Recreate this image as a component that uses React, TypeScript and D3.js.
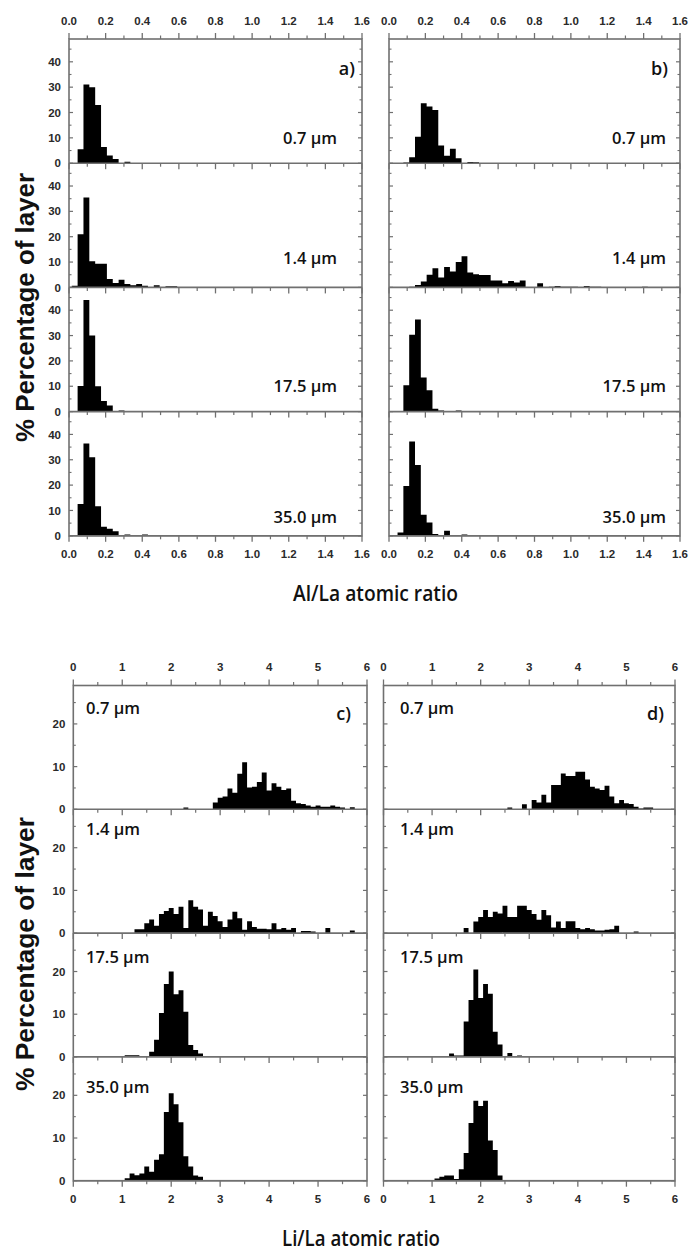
import React from 'react';
import * as d3 from 'd3';

// ---------- DATA ----------
// Al/La histogram bin centres (bin width 0.032)
const alBins = [
  0.031, 0.063, 0.095, 0.127, 0.159, 0.191, 0.223, 0.255, 0.287, 0.319,
  0.351, 0.383, 0.415, 0.447, 0.479, 0.511, 0.543, 0.575, 0.607, 0.639,
  0.671, 0.703, 0.735, 0.767, 0.799, 0.831, 0.863, 0.895, 0.927, 0.959,
  0.991, 1.023, 1.055, 1.087, 1.119, 1.151, 1.183, 1.215, 1.247, 1.279,
  1.311, 1.343, 1.375, 1.407, 1.439,
];
const alBinWidth = 0.032;

// panel a)
const a07 = [0, 5.5, 31, 30, 23, 6.4, 3, 1.7, 0, 0.6];
const a14 = [0.7, 21, 35.5, 10.3, 9.3, 9.3, 3.3, 1.7, 3, 1.3, 0.8, 1.3, 0.7, 0, 0.8, 0, 0.5, 0.5];
const a175 = [0, 10.1, 44, 30, 10, 4.2, 2.4, 0, 0.4];
const a35 = [0, 12.5, 36.4, 31, 11.7, 3.6, 2.8, 1.8, 0, 0.5, 0, 0, 0.5];

// panel b)
const b07 = [0, 0, 0.3, 2.3, 10.4, 23.7, 22.4, 21, 7, 2.9, 5.7, 2, 0, 0.5, 0.4];
const b14 = [
  0, 0, 0, 0.3, 0.9, 2.3, 5, 7.6, 3.9, 8, 6.3, 10, 12.3, 5.9, 5.2, 4.9, 4.9, 2.7, 2.7, 1.6,
  2.5, 1.9, 2.7, 0, 0, 1.6, 0, 0.3, 0.6, 0.3, 0.3, 0.3, 0, 0.6, 0.3, 0.3, 0, 0, 0, 0,
  0, 0, 0, 0.3,
];
const b175 = [0, 0, 10.4, 30.3, 36.3, 13.5, 8.4, 1.1, 0.4, 0, 0, 0.4];
const b35 = [0, 1.3, 19.6, 37.2, 27.9, 8.3, 5.2, 0.7, 0, 2, 0, 0, 0.5];

// Li/La histogram bin centres (bin width 0.1)
const liBins = [
  1.0, 1.1, 1.2, 1.3, 1.4, 1.5, 1.6, 1.7, 1.8, 1.9,
  2.0, 2.1, 2.2, 2.3, 2.4, 2.5, 2.6, 2.7, 2.8, 2.9,
  3.0, 3.1, 3.2, 3.3, 3.4, 3.5, 3.6, 3.7, 3.8, 3.9,
  4.0, 4.1, 4.2, 4.3, 4.4, 4.5, 4.6, 4.7, 4.8, 4.9,
  5.0, 5.1, 5.2, 5.3, 5.4, 5.5, 5.6, 5.7, 5.8, 5.9,
];
const liBinWidth = 0.1;

// panel c)
const c07 = [
  0, 0, 0, 0, 0, 0, 0, 0, 0, 0,
  0, 0, 0, 0.4, 0, 0, 0, 0, 0, 1.6,
  2.7, 3.0, 4.9, 3.9, 8.3, 11, 5.1, 5.3, 6.4, 8.6,
  4.4, 6.1, 5.3, 4.5, 4.9, 2.0, 1.4, 1.25, 0.9, 0.6,
  0.9, 0.6, 0.6, 0.9, 0.6, 0.4, 0, 0.5,
];
const c14 = [
  0, 0, 0, 0.9, 0.9, 2.3, 3.2, 1.7, 4.5, 5.2,
  5.9, 4.5, 6.2, 1.2, 7.7, 6.2, 5.5, 1.7, 5, 4,
  2.8, 1.4, 3.2, 5, 3.5, 0.8, 2.8, 1.4, 1, 1,
  0.9, 2.3, 0.9, 1.2, 0.8, 1.2, 0, 0.5, 0.5, 0.4,
  0, 0, 1.2, 0, 0, 0, 0, 0.6,
];
const c175 = [0, 0.4, 0.4, 0.4, 0, 0, 1.2, 4.0, 10.3, 17.1, 20, 14.7, 15.6, 10.6, 2.8, 1.6, 0.8];
const c35 = [0, 0.55, 1.7, 1.3, 1.7, 3.3, 2.1, 4.9, 6.2, 16.1, 20.5, 17.9, 13.7, 5.7, 3.3, 1.2, 0.9];

// panel d)
const d07 = [
  0, 0, 0, 0, 0, 0, 0, 0, 0, 0,
  0, 0, 0, 0, 0, 0, 0.4, 0, 0, 1.2,
  0, 2.2, 1.6, 3.4, 1.6, 5.7, 5.7, 8.4, 7.8, 7.8,
  8.8, 8.8, 7, 5.3, 4.9, 4.5, 5.5, 3, 1.4, 2.2,
  1.4, 1.25, 0.6, 0.2, 0.4, 0.4,
];
const d14 = [
  0, 0, 0, 0, 0, 0, 0, 1.2, 0, 2.7,
  3.8, 5.4, 3.8, 5, 4.6, 6.4, 3.8, 3.8, 6.4, 6.4,
  5.4, 4.5, 3.1, 5.4, 4.2, 1.3, 2.7, 1.2, 2.8, 2.8,
  1.2, 0.9, 1.2, 0.9, 0.6, 0.6, 0.8, 0.9, 1.7, 0,
  0, 0, 0.4,
];
const d175 = [0, 0, 0, 0, 0.8, 0.3, 0.3, 8.3, 13.3, 20.5, 13.8, 17.1, 14.8, 5.9, 2.9, 0, 0.9, 0, 0.3];
const d35 = [0, 0.5, 0.9, 1.2, 1.2, 0.4, 2.7, 6.5, 13.5, 18.7, 17.5, 18.7, 9.4, 7.2, 1.2];

const depthLabels = ['0.7 µm', '1.4 µm', '17.5 µm', '35.0 µm'];

const alXMajor = [0, 0.2, 0.4, 0.6, 0.8, 1.0, 1.2, 1.4, 1.6];
const alXMinor = [0.1, 0.3, 0.5, 0.7, 0.9, 1.1, 1.3, 1.5];
const alYMajor = [0, 10, 20, 30, 40];
const alYMinor = [5, 15, 25, 35, 45];

const liXMajor = [0, 1, 2, 3, 4, 5, 6];
const liXMinor = [0.5, 1.5, 2.5, 3.5, 4.5, 5.5];
const liYMajor = [0, 10, 20];
const liYMinor = [5, 15, 25];

// ---------- STYLE ----------
const FRAME = '#707070';
const TICKTXT = '#2a2a2a';
const LBLFONT = "'Open Sans', 'Noto Sans', sans-serif";
const TICKFONT = "'Liberation Sans', Arial, sans-serif";

type PanelProps = {
  x0: number; x1: number; top: number; rowH: number;
  xDomain: [number, number]; yMax: number;
  bins: number[]; binW: number; series: number[][];
  xMajor: number[]; xMinor: number[]; xFmt: (v: number) => string;
  yMajor: number[]; yMinor: number[]; showYLabels: boolean;
  labelX: number; labelAnchor: 'start' | 'end'; labelBaselines: number[];
  tag: string; tagX: number; tagY: number;
};

function Panel(p: PanelProps) {
  const xs = d3.scaleLinear().domain(p.xDomain).range([p.x0, p.x1]);
  const n = p.series.length;
  const bottomAll = p.top + n * p.rowH;
  const els: React.ReactNode[] = [];

  p.series.forEach((vals, i) => {
    const rowTop = p.top + i * p.rowH;
    const bottom = rowTop + p.rowH;
    const ys = d3.scaleLinear().domain([0, p.yMax]).range([bottom, rowTop]);
    const path = d3.path();
    vals.forEach((v, k) => {
      if (!v) return;
      const c = p.bins[k];
      const xl = xs(c - p.binW / 2);
      const xr = xs(c + p.binW / 2);
      path.rect(xl, ys(v), xr - xl, bottom - ys(v));
    });
    els.push(<path key={`bars${i}`} d={path.toString()} fill="#000" />);

    els.push(<line key={`bl${i}`} x1={p.x0} x2={p.x1} y1={bottom} y2={bottom} stroke={FRAME} strokeWidth={1.6} />);
    p.xMajor.forEach((t, j) => els.push(
      <line key={`xM${i}-${j}`} x1={xs(t)} x2={xs(t)} y1={bottom} y2={bottom + 6} stroke={FRAME} strokeWidth={1.3} />));
    p.xMinor.forEach((t, j) => els.push(
      <line key={`xm${i}-${j}`} x1={xs(t)} x2={xs(t)} y1={bottom} y2={bottom + 3.5} stroke={FRAME} strokeWidth={1.2} />));

    p.yMajor.forEach((t, j) => {
      const y = ys(t);
      els.push(<line key={`yML${i}-${j}`} x1={p.x0} x2={p.x0 + 4} y1={y} y2={y} stroke={FRAME} strokeWidth={1.2} />);
      els.push(<line key={`yMR${i}-${j}`} x1={p.x1} x2={p.x1 - 4} y1={y} y2={y} stroke={FRAME} strokeWidth={1.2} />);
      if (p.showYLabels) {
        els.push(<text key={`yl${i}-${j}`} x={p.x0 - 8} y={y} dy="0.36em" textAnchor="end"
          fontFamily={TICKFONT} fontWeight="bold" fontSize={11.5} fill={TICKTXT}>{t}</text>);
      }
    });
    p.yMinor.forEach((t, j) => {
      const y = ys(t);
      els.push(<line key={`ymL${i}-${j}`} x1={p.x0} x2={p.x0 + 2.5} y1={y} y2={y} stroke={FRAME} strokeWidth={1.1} />);
      els.push(<line key={`ymR${i}-${j}`} x1={p.x1} x2={p.x1 - 2.5} y1={y} y2={y} stroke={FRAME} strokeWidth={1.1} />);
    });

    els.push(<text key={`dl${i}`} x={p.labelX} y={p.labelBaselines[i]} textAnchor={p.labelAnchor}
      fontFamily={LBLFONT} fontWeight={600} fontSize={16.5} fill="#111">{depthLabels[i]}</text>);
  });

  els.push(<rect key="frame" x={p.x0} y={p.top} width={p.x1 - p.x0} height={bottomAll - p.top}
    fill="none" stroke={FRAME} strokeWidth={1.6} />);
  p.xMajor.forEach((t, j) => els.push(
    <line key={`tM${j}`} x1={xs(t)} x2={xs(t)} y1={p.top} y2={p.top - 6} stroke={FRAME} strokeWidth={1.3} />));
  p.xMinor.forEach((t, j) => els.push(
    <line key={`tm${j}`} x1={xs(t)} x2={xs(t)} y1={p.top} y2={p.top - 3.5} stroke={FRAME} strokeWidth={1.2} />));
  p.xMajor.forEach((t, j) => {
    els.push(<text key={`tl${j}`} x={xs(t)} y={p.top - 14.5} textAnchor="middle"
      fontFamily={TICKFONT} fontWeight="bold" fontSize={11.5} fill={TICKTXT}>{p.xFmt(t)}</text>);
    els.push(<text key={`bt${j}`} x={xs(t)} y={bottomAll + 22} textAnchor="middle"
      fontFamily={TICKFONT} fontWeight="bold" fontSize={11.5} fill={TICKTXT}>{p.xFmt(t)}</text>);
  });
  els.push(<text key="tag" x={p.tagX} y={p.tagY} textAnchor="end" fontFamily={LBLFONT}
    fontWeight={600} fontSize={18} fill="#111">{p.tag}</text>);

  return <g>{els}</g>;
}

export default function App() {
  const fmt1 = d3.format('.1f');
  const fmt0 = d3.format('d');
  const topRows = [a07, a14, a175, a35];
  const topRowsB = [b07, b14, b175, b35];
  const botRowsC = [c07, c14, c175, c35];
  const botRowsD = [d07, d14, d175, d35];
  const tTop = 39, tRowH = 124.2;
  const bTop = 685.5, bRowH = 123.8;
  const topBaselines = [143.5, 264, 392, 522.5];
  const botBaselines = [714, 834.5, 963, 1093];

  return (
    <svg width={690} height={1251} style={{ position: 'absolute', left: 0, top: 0, background: '#fff' }}>
      <rect x={0} y={0} width={690} height={1251} fill="#fff" />
      <Panel x0={69} x1={362} top={tTop} rowH={tRowH} xDomain={[0, 1.6]} yMax={49}
        bins={alBins} binW={alBinWidth} series={topRows}
        xMajor={alXMajor} xMinor={alXMinor} xFmt={fmt1}
        yMajor={alYMajor} yMinor={alYMinor} showYLabels={true}
        labelX={337} labelAnchor="end" labelBaselines={topBaselines}
        tag="a)" tagX={355} tagY={75} />
      <Panel x0={389} x1={680} top={tTop} rowH={tRowH} xDomain={[0, 1.6]} yMax={49}
        bins={alBins} binW={alBinWidth} series={topRowsB}
        xMajor={alXMajor} xMinor={alXMinor} xFmt={fmt1}
        yMajor={alYMajor} yMinor={alYMinor} showYLabels={false}
        labelX={666} labelAnchor="end" labelBaselines={topBaselines}
        tag="b)" tagX={668} tagY={75} />
      <Panel x0={73.3} x1={367} top={bTop} rowH={bRowH} xDomain={[0, 6]} yMax={29}
        bins={liBins} binW={liBinWidth} series={botRowsC}
        xMajor={liXMajor} xMinor={liXMinor} xFmt={fmt0}
        yMajor={liYMajor} yMinor={liYMinor} showYLabels={true}
        labelX={86} labelAnchor="start" labelBaselines={botBaselines}
        tag="c)" tagX={351} tagY={720} />
      <Panel x0={383.5} x1={675} top={bTop} rowH={bRowH} xDomain={[0, 6]} yMax={29}
        bins={liBins} binW={liBinWidth} series={botRowsD}
        xMajor={liXMajor} xMinor={liXMinor} xFmt={fmt0}
        yMajor={liYMajor} yMinor={liYMinor} showYLabels={false}
        labelX={400} labelAnchor="start" labelBaselines={botBaselines}
        tag="d)" tagX={664} tagY={720} />

      <text x={375.5} y={601} textAnchor="middle" fontFamily={LBLFONT} fontWeight={600}
        fontSize={21} fill="#111" textLength={165} lengthAdjust="spacingAndGlyphs">
        Al/La atomic ratio
      </text>
      <text x={361} y={1246} textAnchor="middle" fontFamily={LBLFONT} fontWeight={600}
        fontSize={21} fill="#111" textLength={158} lengthAdjust="spacingAndGlyphs">
        Li/La atomic ratio
      </text>

      <text transform="translate(34,307.5) rotate(-90)" textAnchor="middle" fontFamily={TICKFONT}
        fontWeight="bold" fontSize={25} fill="#111" textLength={269} lengthAdjust="spacingAndGlyphs">
        % Percentage of layer
      </text>
      <text transform="translate(34,954) rotate(-90)" textAnchor="middle" fontFamily={TICKFONT}
        fontWeight="bold" fontSize={25} fill="#111" textLength={274} lengthAdjust="spacingAndGlyphs">
        % Percentage of layer
      </text>
    </svg>
  );
}
